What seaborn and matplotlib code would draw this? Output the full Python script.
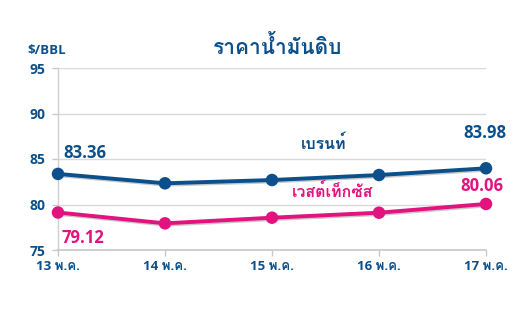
import matplotlib
matplotlib.use("Agg")
import matplotlib.pyplot as plt
import matplotlib.patheffects as pe
import seaborn as sns
import pandas as pd

dates = ["13 พ.ค.", "14 พ.ค.", "15 พ.ค.", "16 พ.ค.", "17 พ.ค."]
brent = [83.36, 82.33, 82.69, 83.24, 83.98]
wti = [79.12, 77.93, 78.55, 79.10, 80.06]
series_names = ["เบรนท์", "เวสต์เท็กซัส"]
title = "ราคาน้ำมันดิบ"
unit = "$/BBL"
yticks = [75, 80, 85, 90, 95]

BLUE = "#0b4f8b"
PINK = "#e2137f"

sns.set_theme(style="white")
FONT = ["Open Sans", "Loma", "DejaVu Sans"]
plt.rcParams["font.family"] = FONT
plt.rcParams["font.weight"] = "bold"

df = pd.DataFrame({
    "x": list(range(len(dates))) * 2,
    "price": brent + wti,
    "series": [series_names[0]] * len(dates) + [series_names[1]] * len(dates),
})

fig = plt.figure(figsize=(5.16, 3.29), dpi=100)
ax = fig.add_axes([58 / 516, 1 - 250 / 329, (486 - 58) / 516, (250 - 68) / 329])

shadow = [pe.SimpleLineShadow(offset=(0.8, -1.0), shadow_color="#666666", alpha=0.35), pe.Normal()]
sns.lineplot(data=df, x="x", y="price", hue="series", palette=[BLUE, PINK],
             marker="o", markersize=9, markeredgewidth=0, linewidth=2.8,
             legend=False, ax=ax, zorder=3)
for ln in ax.get_lines():
    ln.set_path_effects(shadow)
    ln.set_clip_on(False)

ax.set_xlim(0, 4)
ax.set_ylim(75, 95)
ax.set_yticks(yticks)
ax.set_yticklabels([str(v) for v in yticks], fontsize=10, fontweight="bold", color=BLUE)
ax.set_xticks(range(len(dates)))
ax.set_xticklabels(dates, fontsize=9.5, fontweight="bold", color=BLUE)
ax.set_xlabel("")
ax.set_ylabel("")

ax.grid(axis="y", color="#d9d9d9", linewidth=1)
ax.grid(axis="x", visible=False)
for s in ["top", "right"]:
    ax.spines[s].set_visible(False)
ax.spines["left"].set_color("#d0d0d0")
ax.spines["bottom"].set_color("#c8c8c8")
ax.spines["left"].set_linewidth(1)
ax.spines["bottom"].set_linewidth(1.2)
ax.tick_params(axis="x", length=4, color="#c8c8c8", width=1, pad=3, bottom=True)
ax.tick_params(axis="y", length=4, color="#c8c8c8", width=1, pad=5, left=True)
for lbl in ax.get_xticklabels() + ax.get_yticklabels():
    lbl.set_family(FONT)
    lbl.set_fontweight("bold")

# data labels
kw = dict(fontsize=12, fontweight="bold", ha="center", va="center", clip_on=False, family=FONT)
ax.text(0.25, 85.7, f"{brent[0]:.2f}", color=BLUE, **kw)
ax.text(3.99, 87.9, f"{brent[-1]:.2f}", color=BLUE, **kw)
ax.text(0.23, 76.3, f"{wti[0]:.2f}", color=PINK, **kw)
ax.text(3.96, 82.05, f"{wti[-1]:.2f}", color=PINK, **kw)

# series labels
ax.text(2.48, 86.6, series_names[0], color=BLUE, fontsize=11.5, fontweight="bold", ha="center", va="center", family=FONT)
ax.text(2.57, 81.3, series_names[1], color=PINK, fontsize=11.5, fontweight="bold", ha="center", va="center", family=FONT)

fig.text(278 / 516, 1 - 47 / 329, title, color=BLUE, fontsize=15, fontweight="bold", ha="center", va="center", family=FONT)
fig.text(27 / 516, 1 - 50 / 329, unit, color=BLUE, fontsize=9.5, fontweight="bold", ha="left", va="center", family=FONT)

fig.savefig("out.png", dpi=100, facecolor="white")
